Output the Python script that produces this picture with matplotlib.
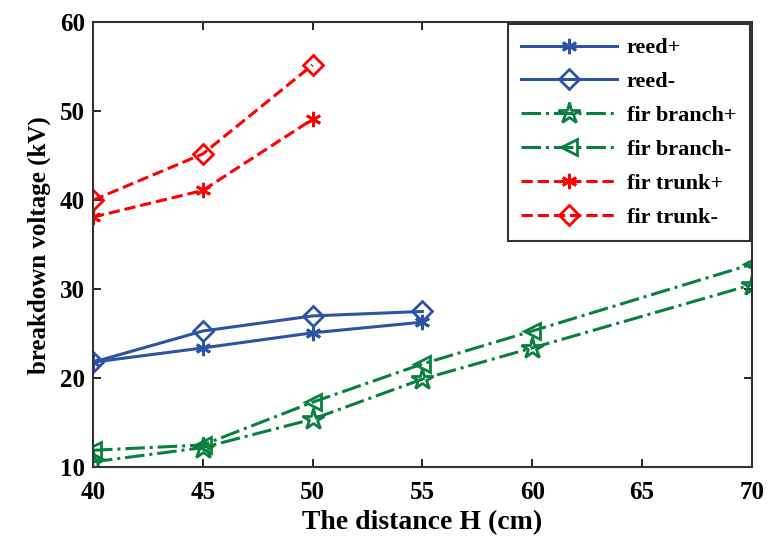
import matplotlib.pyplot as plt

# breakdown voltage (kV) vs distance H (cm)
h_short = [40, 45, 50, 55]
h_long = [40, 45, 50, 55, 60, 70]
h_trunk = [40, 45, 50]

reed_pos = [21.8, 23.4, 25.1, 26.3]
reed_neg = [21.8, 25.3, 27.0, 27.5]
branch_pos = [10.6, 12.2, 15.4, 19.9, 23.4, 30.5]
branch_neg = [11.9, 12.5, 17.3, 21.6, 25.3, 32.8]
trunk_pos = [38.1, 41.1, 49.1]
trunk_neg = [40.0, 45.2, 55.2]

blue = '#2d54a4'
green = '#0a8040'
red = '#ff0000'

plt.rcParams['font.family'] = ['Liberation Serif', 'DejaVu Serif']
plt.rcParams['font.weight'] = 'bold'

fig = plt.figure(figsize=(7.71, 5.42), dpi=100)
ax = fig.add_axes([0.1206, 0.138, 0.8544, 0.821])

lw = 2.2
ax.plot(h_short, reed_pos, color=blue, lw=lw, marker=(6, 2, 0), ms=11, mew=2, label='reed+')
ax.plot(h_short, reed_neg, color=blue, lw=lw, marker='D', ms=10, mfc='none', mew=2, label='reed-')
ax.plot(h_long, branch_pos, color=green, lw=lw, ls='-.', marker='*', ms=16, mfc='none', mew=2, label='fir branch+')
ax.plot(h_long, branch_neg, color=green, lw=lw, ls='-.', marker='<', ms=12, mfc='none', mew=2, label='fir branch-')
ax.plot(h_trunk, trunk_pos, color=red, lw=lw, ls='--', marker=(6, 2, 0), ms=11, mew=2, label='fir trunk+')
ax.plot(h_trunk, trunk_neg, color=red, lw=lw, ls='--', marker='D', ms=10, mfc='none', mew=2, label='fir trunk-')

ax.set_xlim(40, 70)
ax.set_ylim(10, 60)
ax.set_xticks(range(40, 71, 5))
ax.set_yticks(range(10, 61, 10))
ax.tick_params(direction='in', top=True, right=True, labelsize=18, length=6, width=1.2)
ax.tick_params(axis='x', pad=10)
ax.tick_params(axis='y', pad=6)
for s in ax.spines.values():
    s.set_linewidth(1.5)
    s.set_color('#333333')

ax.set_xlabel('The distance H (cm)', fontsize=20, fontweight='bold', labelpad=4)
ax.set_ylabel('breakdown voltage (kV)', fontsize=18, fontweight='bold', labelpad=6)

leg = ax.legend(loc='upper right', fontsize=16, handlelength=4.3, borderaxespad=0.1,
                fancybox=False, edgecolor='#333333', framealpha=1, labelspacing=0.6,
                handletextpad=0.45, borderpad=0.6)
leg.get_frame().set_linewidth(1.5)

fig.savefig('out.png', dpi=100)
